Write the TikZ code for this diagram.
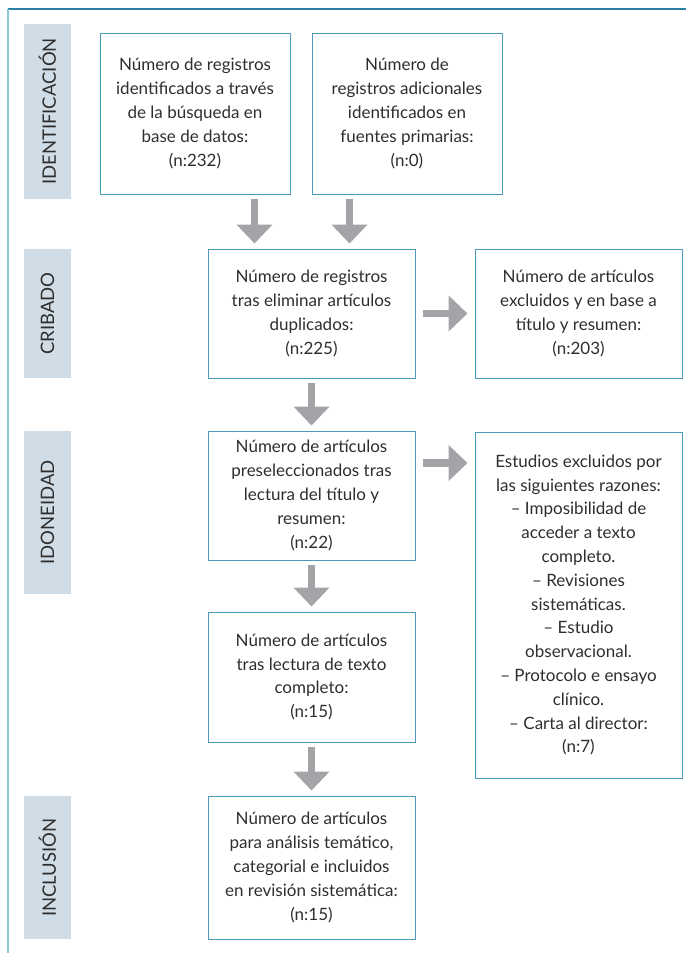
\documentclass[tikz,border=0pt]{standalone}
\usepackage{fontspec}
\setmainfont{Lato}
\usepackage{xcolor}
\usepackage{tikz}
\usetikzlibrary{arrows.meta}

\definecolor{framedark}{HTML}{2B7FA3}
\definecolor{framelight}{HTML}{8CC4D8}
\definecolor{boxline}{HTML}{4A9BBB}
\definecolor{bandfill}{HTML}{D0DDE6}
\definecolor{arrowgray}{HTML}{A3A4A8}
\definecolor{txtgray}{HTML}{2E2E2E}

\tikzset{
  stagebox/.style={draw=boxline, line width=1pt, text=txtgray, align=center, inner sep=0pt,
    font={\fontsize{17}{23.8}\selectfont}},
  band/.style={fill=bandfill, rotate=90, minimum height=47pt, inner sep=0pt, text=txtgray,
    font={\fontsize{18.5}{20}\selectfont}},
  fatarrow/.style={draw=arrowgray, line width=7.5pt, -{Triangle[width=35pt,length=19pt]},
    shorten <=4pt, shorten >=5pt}
}

\begin{document}
\begin{tikzpicture}[x=1pt, y=-1pt]
\useasboundingbox (0,0) rectangle (686,953);

\draw[framedark, line width=1.2pt] (8,9)--(686,9);
\draw[framelight, line width=1.5pt] (8,9)--(8,953);

% stages
\node[band, minimum width=175pt] (identif) at (47.5,111.5) {IDENTIFICACIÓN};
\node[band, minimum width=129pt] (crib) at (47.5,313.5) {CRIBADO};
\node[band, minimum width=163pt] (idon) at (47.5,512.5) {IDONEIDAD};
\node[band, minimum width=143pt] (incl) at (47.5,867.5) {INCLUSIÓN};

% boxes
\node[stagebox, minimum width=190pt, minimum height=161pt] (busq) at (195,113.5)
  {Número de registros\\identificados a través\\de la búsqueda en\\base de datos:\\(n:232)};
\node[stagebox, minimum width=190pt, minimum height=161pt] (fuentes) at (407,113.5)
  {Número de\\registros adicionales\\identificados en\\fuentes primarias:\\(n:0)};
\node[stagebox, minimum width=207pt, minimum height=129pt] (duplic) at (311.5,313.5)
  {Número de registros\\tras eliminar artículos\\duplicados:\\(n:225)};
\node[stagebox, minimum width=207pt, minimum height=129pt] (excltit) at (578.5,313.5)
  {Número de artículos\\excluidos y en base a\\título y resumen:\\(n:203)};
\node[stagebox, minimum width=207pt, minimum height=129pt] (presel) at (311.5,495.5)
  {Número de artículos\\preseleccionados tras\\lectura del título y\\resumen:\\(n:22)};
\node[stagebox, minimum width=207pt, minimum height=346pt] (razones) at (578.5,605)
  {Estudios excluidos por\\las siguientes razones:\\– Imposibilidad de\\acceder a texto\\completo.\\– Revisiones\\sistemáticas.\\– Estudio\\observacional.\\– Protocolo e ensayo\\clínico.\\– Carta al director:\\(n:7)};
\node[stagebox, minimum width=207pt, minimum height=130pt] (textocomp) at (311.5,677)
  {Número de artículos\\tras lectura de texto\\completo:\\(n:15)};
\node[stagebox, minimum width=207pt, minimum height=143pt] (final) at (311.5,867.5)
  {Número de artículos\\para análisis temático,\\categorial e incluidos\\en revisión sistemática:\\(n:15)};

% arrows
\draw[fatarrow] ([xshift=-36pt]busq.south east) -- ([xshift=-36pt]busq.south east |- duplic.north);
\draw[fatarrow] ([xshift=38pt]fuentes.south west) -- ([xshift=38pt]fuentes.south west |- duplic.north);
\draw[fatarrow] (duplic.south) -- (presel.north);
\draw[fatarrow] (presel.south) -- (textocomp.north);
\draw[fatarrow] (textocomp.south) -- (final.north);
\draw[fatarrow, shorten <=7pt, shorten >=7pt] (duplic.east) -- (excltit.west);
\draw[fatarrow, shorten <=7pt, shorten >=7pt] ([yshift=32.5pt]presel.east) -- ([yshift=32.5pt]presel.east -| razones.west);

\end{tikzpicture}
\end{document}
